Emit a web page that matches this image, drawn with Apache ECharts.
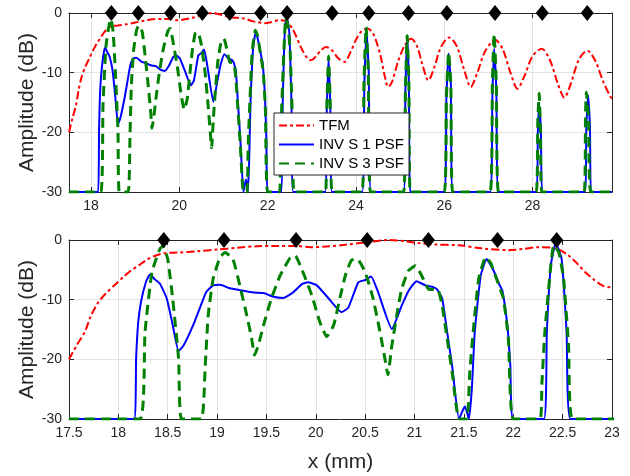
<!DOCTYPE html>
<html>
<head>
<meta charset="utf-8">
<script src="https://cdn.jsdelivr.net/npm/echarts@6/dist/echarts.min.js"></script>
<style>html,body{margin:0;padding:0;background:#fff;}#c{width:630px;height:476px;}</style>
</head>
<body>
<div id="c"></div>
<script>
// ---------- data ----------
const seriesNames = ['TFM', 'INV S 1 PSF', 'INV S 3 PSF'];
const topXTicks = [18, 20, 22, 24, 26, 28];
const yTicks = [-30, -20, -10, 0];

const tfmX = [17.5,17.58,17.66,17.72,17.79,17.87,17.96,18.05,18.13,18.22,18.30,18.38,18.47,18.6,18.8,19.0,19.2,19.4,19.6,19.8,19.95,20.1,20.3,20.5,20.74,20.9,21.04,21.2,21.45,21.68,21.95,22.1,22.26,22.43,22.56,22.65,22.73,22.82,22.90,22.96,23.02,23.1,23.2,23.32,23.45,23.6,23.74,23.88,24.0,24.12,24.26,24.4,24.55,24.65,24.73,24.82,24.95,25.1,25.25,25.38,25.5,25.64,25.78,25.92,26.11,26.28,26.45,26.60,26.75,26.92,27.15,27.32,27.5,27.66,27.82,28.0,28.21,28.4,28.58,28.72,28.86,29.05,29.24,29.42,29.6,29.77,29.8];
const tfmY = [-20,-17.6,-15.4,-12.8,-10.6,-9,-7.6,-6.2,-5.1,-4.1,-3.2,-2.6,-2.2,-2.1,-1.9,-1.6,-1.3,-1.05,-1.0,-1.0,-1.2,-1.1,-0.8,-0.4,0,-0.2,-0.5,-0.75,-0.9,-1.4,-1.7,-1.5,-1.2,-1.4,-2.6,-4.0,-5.4,-6.7,-7.6,-7.9,-7.8,-7.2,-6.3,-5.7,-6.2,-7.6,-8.2,-6.5,-4.5,-3.1,-2.6,-3.6,-7,-10.5,-12.4,-11.5,-8.2,-5.5,-4.3,-5.5,-8.5,-11.3,-9,-5.8,-4.1,-5.5,-9.5,-12.4,-10,-6.5,-4.5,-6,-10,-12.7,-10.5,-7.2,-6.0,-8,-12,-14.2,-12,-7.8,-6.3,-8,-11.5,-14.1,-14.3];

const inv1X = [17.5,18.16,18.18,18.2,18.23,18.28,18.32,18.37,18.42,18.49,18.55,18.61,18.66,18.76,18.83,18.89,18.96,19.03,19.13,19.23,19.37,19.47,19.57,19.67,19.76,19.86,19.92,20.01,20.13,20.26,20.33,20.43,20.5,20.56,20.63,20.77,20.87,20.94,21.02,21.11,21.19,21.23,21.28,21.33,21.38,21.45,21.49,21.51,21.53,21.55,21.58,21.61,21.67,21.73,21.80,21.86,21.89,21.94,21.97,22.0,22.31,22.34,22.38,22.43,22.49,22.54,22.58,
  23.30,23.34,23.38,23.42,23.46,24.14,24.19,24.24,24.29,24.34,25.08,25.12,25.16,25.2,25.23,26.0,26.05,26.10,26.15,26.19,27.04,27.09,27.13,27.18,27.23,28.09,28.12,28.15,28.19,28.22,29.18,29.22,29.26,29.30,29.34,29.8];
const inv1Y = [-30,-30,-19.8,-14,-10.3,-7,-5.8,-6.6,-7.3,-9.8,-14.2,-18.6,-17.7,-14.2,-11.2,-8.7,-7.6,-7.5,-8.1,-8.4,-8.8,-8.9,-9.5,-9.7,-8.9,-7.4,-7.1,-7.6,-9.8,-12.1,-11.3,-7.1,-6.7,-6.1,-8.7,-14.9,-11.0,-8.5,-6.9,-7.6,-7.9,-8.3,-9.8,-15.4,-21,-30,-28.5,-27.9,-28.8,-30,-25,-15.4,-6,-3.2,-5.1,-7.5,-8.5,-14.3,-21,-30,-30,-15.4,-4.3,-0.5,-3.2,-15.4,-30,
  -30,-16,-7.4,-16,-30,-30,-12,-3.0,-10,-30,-30,-13,-4.0,-12,-30,-30,-14,-6.8,-12,-30,-30,-14,-6.0,-13,-30,-30,-20,-15.2,-20,-30,-30,-19,-13.8,-19,-30,-30];

const inv3X = [17.5,18.22,18.27,18.34,18.42,18.45,18.50,18.55,18.61,18.64,18.84,18.88,18.91,18.96,19.03,19.08,19.16,19.23,19.30,19.35,19.38,19.42,19.47,19.55,19.64,19.74,19.79,19.87,19.96,20.04,20.11,20.18,20.25,20.30,20.36,20.42,20.50,20.58,20.65,20.70,20.73,20.77,20.82,20.87,20.94,21.01,21.07,21.14,21.19,21.24,21.28,21.33,21.38,21.45,21.53,21.56,21.60,21.65,21.72,21.77,21.83,21.90,21.95,22.0,22.27,22.29,22.32,22.38,22.41,22.46,22.51,22.56,22.60,
  23.31,23.34,23.38,23.42,23.46,24.14,24.18,24.23,24.28,24.33,25.08,25.12,25.16,25.2,25.23,26.0,26.05,26.10,26.15,26.19,27.04,27.09,27.13,27.18,27.23,28.08,28.12,28.15,28.18,28.21,29.17,29.2,29.22,29.27,29.32,29.8];
const inv3Y = [-30,-30,-15.4,-5.4,-1.5,-1.0,-3.2,-9.8,-19.9,-30,-30,-21,-12.6,-6.5,-2.9,-2.1,-3.2,-7.6,-12.6,-16.5,-19.3,-17.5,-14.3,-9.8,-5.9,-3,-2.6,-5.4,-9.3,-13.7,-16.2,-14.3,-9.3,-5.9,-3.4,-3.2,-5.4,-9.8,-15.4,-19.9,-22.6,-17.7,-12.6,-8.2,-5.1,-4.3,-5.9,-8.2,-8.3,-8.4,-11,-16.5,-22,-30,-30,-22,-14.3,-6.5,-2.9,-3.8,-6.5,-9.8,-16.5,-30,-30,-24,-15.4,-4.3,-0.9,-2,-6.5,-17.7,-30,
  -30,-16,-7.2,-16,-30,-30,-12,-2.4,-10,-30,-30,-13,-3.8,-12,-30,-30,-14,-6.6,-12,-30,-30,-12,-3.5,-12,-30,-30,-18,-13.5,-20,-30,-30,-17,-13.3,-18,-30,-30];

const markerX = [18.46,19.07,19.80,20.52,21.14,21.84,22.44,23.46,24.29,25.19,26.06,27.15,28.22,29.24];
const markerY = 0;

// ---------- build ----------
const zip = (xs, ys) => xs.map((x, i) => [x, ys[i]]);
const tfm = zip(tfmX, tfmY), inv1 = zip(inv1X, inv1Y), inv3 = zip(inv3X, inv3Y);
const F = '"Liberation Sans", Arial, Helvetica, sans-serif';
const TXT = '#262626';

const grids = [
  {left: 69, top: 13, width: 543, height: 179},
  {left: 69, top: 240, width: 543, height: 179}
];
const xRanges = [[17.5, 29.8], [17.5, 23]];

function xAx(i, top) {
  const base = {
    type: 'value', gridIndex: i, min: xRanges[i][0], max: xRanges[i][1],
    position: top ? 'top' : 'bottom',
    axisLine: {show: true, onZero: false, lineStyle: {color: TXT, width: 1}},
    axisTick: {show: true, inside: true, length: 5, lineStyle: {color: TXT}},
    axisLabel: {show: !top, color: TXT, fontFamily: F, fontSize: 14, margin: 7,
      formatter: v => String(v)},
    splitLine: {show: !top, lineStyle: {color: '#e3e3e3', width: 1}}
  };
  if (i === 0) {
    base.axisTick.customValues = topXTicks;
    base.axisLabel.customValues = topXTicks;
  } else {
    base.interval = 0.5;
  }
  if (i === 1 && !top) {
    base.name = 'x (mm)';
    base.nameLocation = 'middle';
    base.nameGap = 33;
    base.nameMoveOverlap = false;
    base.nameTextStyle = {color: TXT, fontFamily: F, fontSize: 21};
  }
  return base;
}
function yAx(i, right) {
  const base = {
    type: 'value', gridIndex: i, min: yTicks[0], max: yTicks[yTicks.length - 1], interval: 10,
    position: right ? 'right' : 'left',
    axisLine: {show: true, onZero: false, lineStyle: {color: TXT, width: 1}},
    axisTick: {show: true, inside: true, length: 5, lineStyle: {color: TXT}},
    axisLabel: {show: !right, color: TXT, fontFamily: F, fontSize: 14, margin: 7},
    splitLine: {show: !right, lineStyle: {color: '#e3e3e3', width: 1}}
  };
  if (!right) {
    base.name = 'Amplitude (dB)';
    base.nameLocation = 'middle';
    base.nameGap = 31;
    base.nameMoveOverlap = false;
    base.nameTextStyle = {color: TXT, fontFamily: F, fontSize: 21};
  }
  return base;
}

const lineStyles = [
  {color: '#ff0000', width: 2, type: [8, 3, 3, 3]},
  {color: '#0000ff', width: 2, type: 'solid'},
  {color: '#008000', width: 3, type: [10, 6]}
];
const datas = [tfm, inv1, inv3];

const series = [];
for (let g = 0; g < 2; g++) {
  for (let s = 0; s < 3; s++) {
    series.push({
      type: 'line', name: seriesNames[s], xAxisIndex: g * 2, yAxisIndex: g * 2,
      data: datas[s], showSymbol: false, symbol: 'none', smooth: s === 0 ? 0.3 : 0.15,
      lineStyle: lineStyles[s], itemStyle: {color: lineStyles[s].color},
      z: 3 + s, animation: false, clip: true
    });
  }
  const mx = markerX.filter(x => x >= xRanges[g][0] && x <= xRanges[g][1]);
  series.push({
    type: 'scatter', name: 'markers', xAxisIndex: g * 2, yAxisIndex: g * 2,
    data: mx.map(x => [x, markerY]), symbol: 'diamond', symbolSize: [13, 16],
    itemStyle: {color: '#000', opacity: 1}, z: 20, clip: false, animation: false, silent: true
  });
}

const chart = echarts.init(document.getElementById('c'), null, {renderer: 'canvas'});
chart.setOption({
  animation: false,
  backgroundColor: '#fff',
  grid: grids.map(g => Object.assign({containLabel: false}, g)),
  xAxis: [xAx(0, false), xAx(0, true), xAx(1, false), xAx(1, true)].map((a, k) => Object.assign(a, {gridIndex: k < 2 ? 0 : 1})),
  yAxis: [yAx(0, false), yAx(0, true), yAx(1, false), yAx(1, true)].map((a, k) => Object.assign(a, {gridIndex: k < 2 ? 0 : 1})),
  legend: {
    data: seriesNames, orient: 'vertical', left: 274, top: 113, z: 50,
    backgroundColor: '#fff', borderColor: TXT, borderWidth: 1,
    padding: [5, 5, 4, 4], itemGap: 4, itemWidth: 35, itemHeight: 15,
    itemStyle: {opacity: 0, borderWidth: 0},
    textStyle: {color: '#000', fontFamily: F, fontSize: 15, lineHeight: 15}
  },
  series: series
});
</script>
</body>
</html>
